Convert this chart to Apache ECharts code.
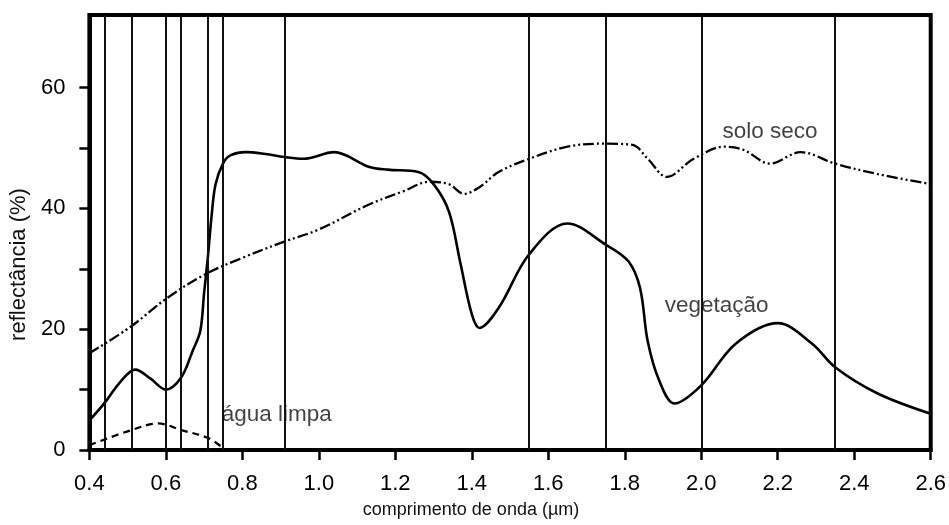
<!DOCTYPE html>
<html>
<head>
<meta charset="utf-8">
<script src="https://cdn.jsdelivr.net/npm/echarts@6/dist/echarts.min.js"></script>
<style>
html, body { margin: 0; padding: 0; background: #fff; }
#main { width: 949px; height: 525px; }
</style>
</head>
<body>
<div id="main"></div>
<script>
// comprimento de onda (µm) e reflectância (%)
var vegX = [0.40, 0.44, 0.48, 0.52, 0.56, 0.60, 0.64, 0.67, 0.69, 0.70, 0.71, 0.72, 0.73, 0.75, 0.77, 0.81, 0.86, 0.91, 0.96, 1.04, 1.13, 1.18, 1.26, 1.30, 1.34, 1.37, 1.40, 1.42, 1.47, 1.55, 1.65, 1.75, 1.81, 1.84, 1.86, 1.89, 1.93, 2.00, 2.09, 2.20, 2.29, 2.35, 2.46, 2.60];
var vegY = [4.9, 7.8, 11.2, 13.3, 11.8, 10.0, 12.0, 16.4, 19.7, 26.0, 32.0, 39.0, 44.0, 47.5, 48.8, 49.3, 49.0, 48.5, 48.2, 49.3, 46.9, 46.4, 46.0, 44.0, 39.5, 31.0, 22.5, 20.2, 23.5, 32.4, 37.5, 34.0, 31.2, 26.8, 18.0, 11.5, 7.7, 10.7, 17.6, 21.0, 17.6, 13.7, 9.4, 6.0];

var soloX = [0.40, 0.51, 0.60, 0.70, 0.80, 0.91, 1.00, 1.13, 1.22, 1.29, 1.34, 1.38, 1.42, 1.47, 1.55, 1.65, 1.74, 1.82, 1.86, 1.91, 1.98, 2.06, 2.11, 2.18, 2.26, 2.35, 2.46, 2.60];
var soloY = [16.0, 20.5, 25.0, 29.0, 31.8, 34.5, 36.5, 40.6, 42.8, 44.4, 44.0, 42.4, 43.5, 46.0, 48.2, 50.2, 50.7, 50.5, 48.2, 45.2, 48.2, 50.2, 49.7, 47.4, 49.3, 47.4, 45.7, 44.0];

var aguaX = [0.40, 0.51, 0.58, 0.64, 0.71, 0.75];
var aguaY = [0.8, 3.3, 4.4, 3.3, 2.0, 0.3];

// bandas (linhas verticais)
var bandLines = [0.44, 0.51, 0.60, 0.64, 0.71, 0.75, 0.91, 1.55, 1.75, 2.00, 2.35];

var yLabels = [0, 20, 40, 60];
var yTicks = [0, 10, 20, 30, 40, 50, 60];

var labelNames = ['solo seco', 'vegetação', 'água limpa'];
var labelX = [2.18, 2.04, 0.89];
var labelY = [52.6, 23.8, 5.8];

function pairs(xs, ys) {
    return xs.map(function (x, i) { return [x, ys[i]]; });
}

var font = "'Liberation Sans', Arial, sans-serif";

var myChart = echarts.init(document.getElementById('main'));

var option = {
    animation: false,
    backgroundColor: '#fff',
    grid: {
        left: 89, right: 12, top: 15, bottom: 75,
        show: true, borderColor: '#000', borderWidth: 4
    },
    xAxis: {
        type: 'value',
        min: 0.4, max: 2.6, interval: 0.2,
        name: 'comprimento de onda (µm)',
        nameLocation: 'middle',
        nameGap: 51,
        nameTextStyle: { color: '#111', fontSize: 18, fontFamily: font, padding: [0, 78, 0, 0] },
        axisLine: { lineStyle: { color: '#000', width: 4 } },
        axisTick: { length: 10, lineStyle: { color: '#000', width: 2.5 } },
        axisLabel: {
            margin: 23, color: '#000', fontSize: 22, fontFamily: font,
            formatter: function (v) { return v.toFixed(1); }
        },
        splitLine: { show: false }
    },
    yAxis: {
        type: 'value',
        min: 0, max: 72,
        name: 'reflectância (%)',
        nameLocation: 'middle',
        nameGap: 56,
        nameTextStyle: { color: '#111', fontSize: 22, fontFamily: font, padding: [0, 64, 0, 0] },
        axisLine: { lineStyle: { color: '#000', width: 4 } },
        axisTick: { length: 10, customValues: yTicks, lineStyle: { color: '#000', width: 2.5 } },
        axisLabel: { margin: 24, color: '#000', fontSize: 22, fontFamily: font, customValues: yLabels },
        splitLine: { show: false }
    },
    series: [
        {
            name: 'bandas',
            type: 'line',
            data: [],
            markLine: {
                silent: true,
                symbol: ['none', 'none'],
                label: { show: false },
                lineStyle: { color: '#111', width: 2, type: 'solid' },
                data: bandLines.map(function (v) { return { xAxis: v }; })
            }
        },
        {
            name: 'vegetação',
            type: 'line',
            data: pairs(vegX, vegY),
            smooth: 0.35,
            showSymbol: false,
            lineStyle: { color: '#000', width: 2.6 }
        },
        {
            name: 'solo seco',
            type: 'line',
            data: pairs(soloX, soloY),
            smooth: 0.35,
            showSymbol: false,
            lineStyle: { color: '#000', width: 2.3, type: [11, 3, 2, 3, 2, 3] }
        },
        {
            name: 'água limpa',
            type: 'line',
            data: pairs(aguaX, aguaY),
            smooth: 0.35,
            showSymbol: false,
            lineStyle: { color: '#000', width: 2.3, type: [7, 5] }
        },
        {
            name: 'rótulos',
            type: 'scatter',
            symbolSize: 0,
            silent: true,
            data: labelNames.map(function (n, i) { return { name: n, value: [labelX[i], labelY[i]] }; }),
            label: {
                show: true,
                position: 'inside',
                formatter: '{b}',
                color: '#111',
                fontSize: 22.5,
                fontFamily: font
            }
        }
    ]
};

myChart.setOption(option);
</script>
</body>
</html>
